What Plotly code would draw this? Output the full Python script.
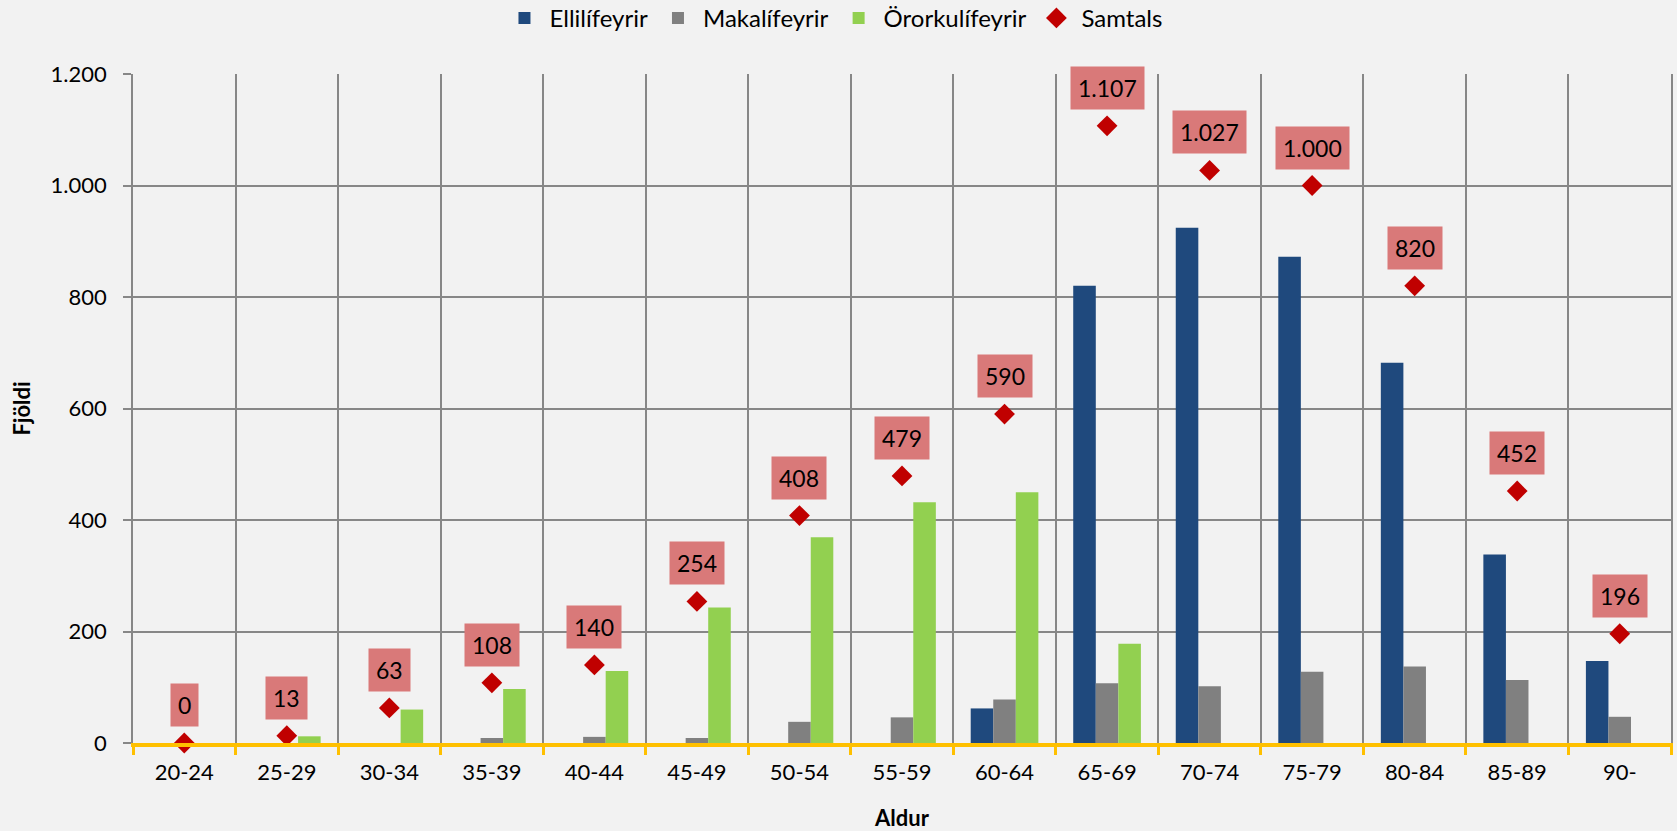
import plotly.graph_objects as go

categories = ["20-24", "25-29", "30-34", "35-39", "40-44", "45-49", "50-54", "55-59",
              "60-64", "65-69", "70-74", "75-79", "80-84", "85-89", "90-"]
ellilifeyrir = [0, 0, 0, 0, 0, 0, 0, 0, 62, 820, 924, 872, 682, 338, 147]
makalifeyrir = [0, 0, 0, 9, 11, 9, 38, 46, 78, 107, 102, 128, 137, 113, 47]
ororkulifeyrir = [0, 12, 60, 97, 129, 243, 369, 432, 450, 178, 0, 0, 0, 0, 0]
samtals = [0, 13, 63, 108, 140, 254, 408, 479, 590, 1107, 1027, 1000, 820, 452, 196]
y_ticks = [0, 200, 400, 600, 800, 1000, 1200]

FONT = "Lato, 'Open Sans', sans-serif"
GRID = "#878787"
BG = "#F2F2F2"

fig = go.Figure()
fig.add_trace(go.Bar(name="Ellilífeyrir", x=categories, y=ellilifeyrir,
                     marker=dict(color="#1F497D", line=dict(width=0))))
fig.add_trace(go.Bar(name="Makalífeyrir", x=categories, y=makalifeyrir,
                     marker=dict(color="#808080", line=dict(width=0))))
fig.add_trace(go.Bar(name="Örorkulífeyrir", x=categories, y=ororkulifeyrir,
                     marker=dict(color="#92D050", line=dict(width=0))))
fig.add_trace(go.Scatter(name="Samtals", x=categories, y=samtals, mode="markers",
                         marker=dict(symbol="diamond", size=16, color="#C00000"),
                         cliponaxis=False))

def fmt(v):
    return f"{v:,}".replace(",", ".")

for c, v in zip(categories, samtals):
    fig.add_annotation(x=c, y=v, text=fmt(v), showarrow=False,
                       yanchor="bottom", yshift=16,
                       bgcolor="#D97979", borderpad=7,
                       font=dict(family=FONT, size=23, color="#000000"))

fig.update_layout(
    width=1677, height=831,
    paper_bgcolor=BG, plot_bgcolor=BG,
    margin=dict(l=133, r=6, t=74, b=88, autoexpand=False),
    separators=",.",
    barmode="group", bargap=0.34, bargroupgap=0,
    font=dict(family=FONT, size=22, color="#000000"),
    legend=dict(orientation="h", xref="container", yref="container",
                x=0.497, xanchor="center", y=0.978, yanchor="middle",
                font=dict(family=FONT, size=24, color="#000000"),
                itemwidth=40, traceorder="normal", bgcolor="rgba(0,0,0,0)"),
    showlegend=True,
)
fig.update_xaxes(
    type="category", tickson="boundaries", range=[-0.5, len(categories) - 0.5],
    showgrid=True, gridcolor=GRID, gridwidth=1.5,
    showline=True, linecolor="#FFC000", linewidth=4,
    ticks="outside", ticklen=8, tickwidth=3, tickcolor="#FFC000",
    tickfont=dict(family=FONT, size=22, color="#000000"),
    ticklabelstandoff=7,
    title=dict(text="<b>Aldur</b>", font=dict(family=FONT, size=22, color="#000000"), standoff=30),
)
fig.update_yaxes(
    range=[0, 1200], tickvals=y_ticks, tickformat=",d",
    showgrid=True, gridcolor=GRID, gridwidth=1.5, zeroline=False,
    showline=True, linecolor=GRID, linewidth=1.5, mirror=True,
    ticks="outside", ticklen=8, tickwidth=1.5, tickcolor=GRID,
    tickfont=dict(family=FONT, size=22, color="#000000"),
    ticklabelstandoff=12,
    title=dict(text="<b>Fjöldi</b>", font=dict(family=FONT, size=22, color="#000000"), standoff=14),
)

fig.write_html("out.html", config={"displayModeBar": False},
               post_script="document.body.style.margin='0';document.body.style.background='#F2F2F2';")
